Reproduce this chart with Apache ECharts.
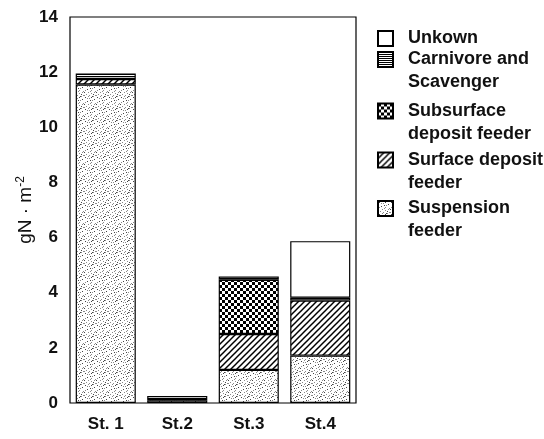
<!DOCTYPE html>
<html><head><meta charset="utf-8">
<script src="https://cdn.jsdelivr.net/npm/echarts@6/dist/echarts.min.js"></script>
<style>html,body{margin:0;padding:0;background:#fff}#c{width:544px;height:439px}</style>
</head><body><div id="c"></div>
<script>
const categories = ['St. 1', 'St.2', 'St.3', 'St.4'];
const suspension = [11.55, 0.1, 1.2, 1.72];
const surfaceDeposit = [0.2, null, 1.3, 2.0];
const subsurfaceDeposit = [null, null, 1.97, null];
const carnivore = [0.2, 0.15, 0.12, 0.1];
const unknown = [null, null, null, 2.05];
const yTicks = [0, 2, 4, 6, 8, 10, 12, 14];
const names = ['Unkown', 'Carnivore and\nScavenger', 'Subsurface\ndeposit feeder', 'Surface deposit\nfeeder', 'Suspension\nfeeder'];

function pat(w, h, draw) {
  const c = document.createElement('canvas'); c.width = w; c.height = h;
  const ctx = c.getContext('2d'); ctx.fillStyle = '#fff'; ctx.fillRect(0, 0, w, h);
  draw(ctx); return { image: c, repeat: 'repeat' };
}
const stipple = pat(12, 12, ctx => {
  const pts = [[1,1],[5,2],[9,0],[3,5],[8,4],[11,7],[0,8],[6,7],[2,10],[9,10],[5,11],[7,9],[10,3],[4,8],
    [3,2],[7,1],[11,11],[1,6],[6,4],[10,8],[0,11],[8,0],[4,0],[7,6]];
  pts.forEach((p, i) => { ctx.fillStyle = i % 3 === 0 ? '#444' : '#8a8a8a'; ctx.fillRect(p[0], p[1], 1, 1); });
});
const hatch = pat(6, 6, ctx => {
  ctx.strokeStyle = '#000'; ctx.lineWidth = 1.5;
  ctx.beginPath(); ctx.moveTo(-1, 7); ctx.lineTo(7, -1); ctx.stroke();
  ctx.beginPath(); ctx.moveTo(-1, 1); ctx.lineTo(1, -1); ctx.stroke();
  ctx.beginPath(); ctx.moveTo(5, 7); ctx.lineTo(7, 5); ctx.stroke();
});
const checker = pat(6, 6, ctx => {
  ctx.fillStyle = '#000'; ctx.fillRect(0, 0, 3, 3); ctx.fillRect(3, 3, 3, 3);
});
const lines = pat(4, 2, ctx => { ctx.fillStyle = '#000'; ctx.fillRect(0, 0, 4, 1); });

const chart = echarts.init(document.getElementById('c'));
const border = { borderColor: '#000', borderWidth: 1.2 };
function s(name, data, color) {
  return { name, type: 'bar', stack: 'a', data, barCategoryGap: '16%',
    itemStyle: Object.assign({ color }, border) };
}
const font = '"Liberation Sans", Arial, sans-serif';
function leg(i, top, multi) {
  return { show: true, data: [names[i]], left: 377, top, orient: 'vertical', padding: 0,
    itemWidth: 15, itemHeight: 15, itemGap: 0, icon: 'rect',
    formatter: n => (multi ? '{a| }\n' : '') + n.split('\n').map(t => '{a|' + t + '}').join('\n'),
    textStyle: { fontFamily: font, fontSize: 18, fontWeight: 'bold', color: '#111', lineHeight: 23,
      rich: { a: { fontFamily: font, fontSize: 18, fontWeight: 'bold', color: '#111', lineHeight: 23, padding: [0, 0, 0, 10] } } } };
}
chart.setOption({
  animation: false,
  grid: { left: 70, right: 188, top: 17, bottom: 36, show: true, borderColor: '#000', borderWidth: 1.2 },
  legend: [leg(0, 27, false), leg(1, 25, true), leg(2, 76.5, true), leg(3, 125.5, true), leg(4, 174, true)],
  xAxis: { type: 'category', data: categories,
    axisLine: { show: false }, axisTick: { show: false },
    axisLabel: { fontFamily: font, fontSize: 17, fontWeight: 'bold', color: '#111', margin: 13 } },
  yAxis: { type: 'value', min: 0, max: 14, interval: 2,
    name: 'gN · m{sup|-2}', nameLocation: 'middle', nameGap: 34, nameRotate: 90, nameMoveOverlap: false,
    nameTextStyle: { fontFamily: font, fontSize: 19, color: '#111',
      rich: { sup: { fontSize: 12, verticalAlign: 'top', padding: [0, 0, 9, 0], fontFamily: font, color: '#111' } } },
    axisLine: { show: false }, axisTick: { show: false }, splitLine: { show: false },
    axisLabel: { fontFamily: font, fontSize: 17, fontWeight: 'bold', color: '#111', margin: 12,
      formatter: v => yTicks.includes(v) ? String(v) : '' } },
  series: [
    s(names[4], suspension, stipple),
    s(names[3], surfaceDeposit, hatch),
    s(names[2], subsurfaceDeposit, checker),
    s(names[1], carnivore, lines),
    s(names[0], unknown, '#fff')
  ]
});
</script></body></html>
